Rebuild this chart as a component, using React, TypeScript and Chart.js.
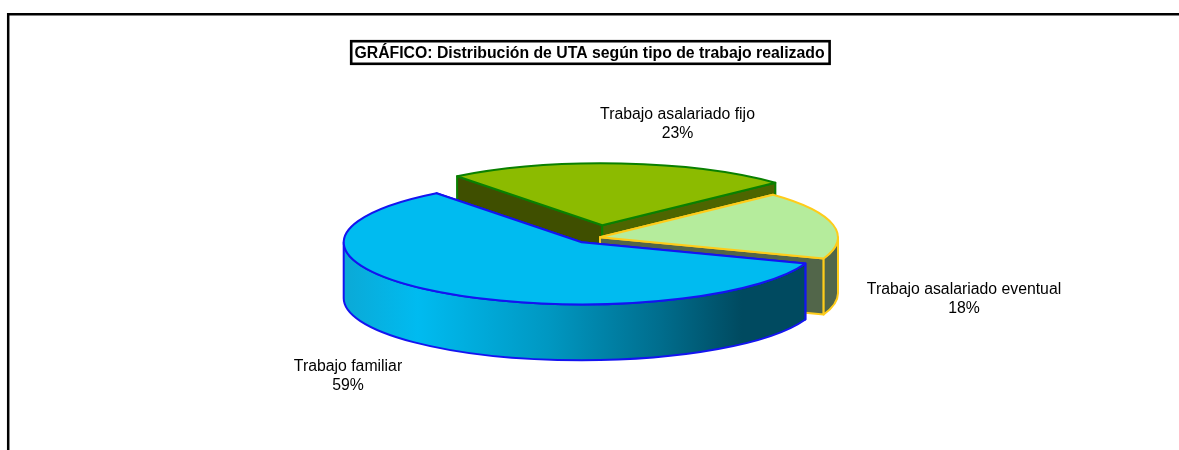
import React, { useEffect, useRef } from "react";
import { Chart, registerables } from "chart.js";

Chart.register(...registerables);

const categories = ["Trabajo familiar", "Trabajo asalariado fijo", "Trabajo asalariado eventual"];
const shares = [59, 23.4, 17.6];
const percentLabels = ["59%", "23%", "18%"];
const chartTitle = "GRÁFICO: Distribución de UTA según tipo de trabajo realizado";

const FONT = "'Liberation Sans', Arial, sans-serif";
const RX = 238;
const RY = 62;
const DEPTH = 56;
const sliceCenters = [
  { x: 581.7, y: 242.3 },
  { x: 602.3, y: 225.3 },
  { x: 600, y: 237.3 },
];
const labelCenters = [
  { x: 348, y: 367 },
  { x: 677.5, y: 115 },
  { x: 964, y: 290 },
];
const topColors = ["#00BBF0", "#8CBB00", "#B5EC9C"];
const borderColors = ["#1414F0", "#0A8000", "#FFCC1A"];
const sideColors = [
  ["#00BBF0", "#00BBF0"],
  ["#3F4F00", "#4D6500"],
  ["#52664A", "#52664A"],
];
const frontColors = ["gradient", "#52664A", "#52664A"];

const pie3d = {
  id: "pie3d",
  beforeDatasetsDraw(chart: any) {
    const ctx: CanvasRenderingContext2D = chart.ctx;
    const arcs = chart.getDatasetMeta(0).data;
    // back to front: green, yellow, blue
    [1, 2, 0].forEach((i) => {
      const arc = arcs[i];
      const c = sliceCenters[i];
      const { startAngle: a0, endAngle: a1, outerRadius: R } = arc;
      const sx = RX / R;
      const sy = RY / R;
      ctx.save();
      ctx.lineJoin = "round";
      ctx.strokeStyle = borderColors[i];
      ctx.lineWidth = 2;

      const sideWall = (ang: number, color: string) => {
        const px = c.x + RX * Math.cos(ang);
        const py = c.y + RY * Math.sin(ang);
        ctx.beginPath();
        ctx.moveTo(c.x, c.y);
        ctx.lineTo(px, py);
        ctx.lineTo(px, py + DEPTH);
        ctx.lineTo(c.x, c.y + DEPTH);
        ctx.closePath();
        ctx.fillStyle = color;
        ctx.fill();
        ctx.stroke();
      };
      sideWall(a0, sideColors[i][0]);
      sideWall(a1, sideColors[i][1]);

      // outer curved wall: only the part facing the viewer (0..PI)
      const ranges: [number, number][] = [];
      for (const k of [0, 2]) {
        const lo = Math.max(a0, k * Math.PI);
        const hi = Math.min(a1, k * Math.PI + Math.PI);
        if (hi > lo) ranges.push([lo, hi]);
      }
      ranges.forEach(([lo, hi]) => {
        ctx.beginPath();
        ctx.ellipse(c.x, c.y, RX, RY, 0, lo, hi);
        ctx.ellipse(c.x, c.y + DEPTH, RX, RY, 0, hi, lo, true);
        ctx.closePath();
        if (frontColors[i] === "gradient") {
          const g = ctx.createLinearGradient(c.x - RX, 0, c.x + 225, 0);
          g.addColorStop(0, "#0BA9D6");
          g.addColorStop(0.16, "#00BBF0");
          g.addColorStop(0.44, "#0098C2");
          g.addColorStop(0.68, "#006E8E");
          g.addColorStop(0.86, "#004A60");
          g.addColorStop(1, "#004A60");
          ctx.fillStyle = g;
        } else {
          ctx.fillStyle = frontColors[i];
        }
        ctx.fill();
        ctx.stroke();
      });

      // top face: the library's own arc element, squeezed into an ellipse
      ctx.save();
      ctx.translate(c.x, c.y);
      ctx.scale(sx, sy);
      ctx.translate(-arc.x, -arc.y);
      arc.draw(ctx);
      ctx.restore();

      ctx.beginPath();
      ctx.moveTo(c.x, c.y);
      ctx.ellipse(c.x, c.y, RX, RY, 0, a0, a1);
      ctx.closePath();
      ctx.stroke();
      ctx.restore();
    });
    return false;
  },
  beforeDraw(chart: any) {
    const ctx: CanvasRenderingContext2D = chart.ctx;
    ctx.save();
    ctx.fillStyle = "#FFFFFF";
    ctx.fillRect(0, 0, chart.width, chart.height);
    ctx.strokeStyle = "#000000";
    ctx.lineWidth = 2.5;
    ctx.lineJoin = "miter";
    ctx.beginPath();
    ctx.moveTo(8.2, chart.height + 2);
    ctx.lineTo(8.2, 14.2);
    ctx.lineTo(chart.width + 2, 14.2);
    ctx.stroke();
    ctx.restore();
  },
  afterDraw(chart: any) {
    const ctx: CanvasRenderingContext2D = chart.ctx;
    ctx.save();
    ctx.strokeStyle = "#000000";
    ctx.lineWidth = 2.6;
    ctx.strokeRect(351.2, 41.2, 478.4, 22.6);
    ctx.fillStyle = "#000000";
    ctx.font = `15.8px ${FONT}`;
    ctx.textAlign = "center";
    ctx.textBaseline = "middle";
    categories.forEach((name, i) => {
      ctx.fillText(name, labelCenters[i].x, labelCenters[i].y);
      ctx.fillText(percentLabels[i], labelCenters[i].x, labelCenters[i].y + 19);
    });
    ctx.restore();
  },
};

export default function App() {
  const ref = useRef<HTMLCanvasElement>(null);
  useEffect(() => {
    const chart = new Chart(ref.current as HTMLCanvasElement, {
      type: "pie",
      data: {
        labels: categories,
        datasets: [
          {
            data: shares,
            backgroundColor: topColors,
            borderWidth: 0,
          },
        ],
      },
      options: {
        animation: false,
        responsive: false,
        rotation: 110,
        plugins: {
          legend: { display: false },
          tooltip: { enabled: false },
          title: {
            display: true,
            text: chartTitle,
            color: "#000000",
            font: { family: FONT, size: 15.8, weight: "bold" },
            padding: { top: 44, bottom: 0 },
          },
        },
      },
      plugins: [pie3d],
    } as any);
    return () => chart.destroy();
  }, []);
  return (
    <div style={{ position: "absolute", left: 0, top: 0, width: 1179, height: 450, overflow: "hidden" }}>
      <canvas ref={ref} width={1179} height={450} style={{ display: "block" }} />
    </div>
  );
}
